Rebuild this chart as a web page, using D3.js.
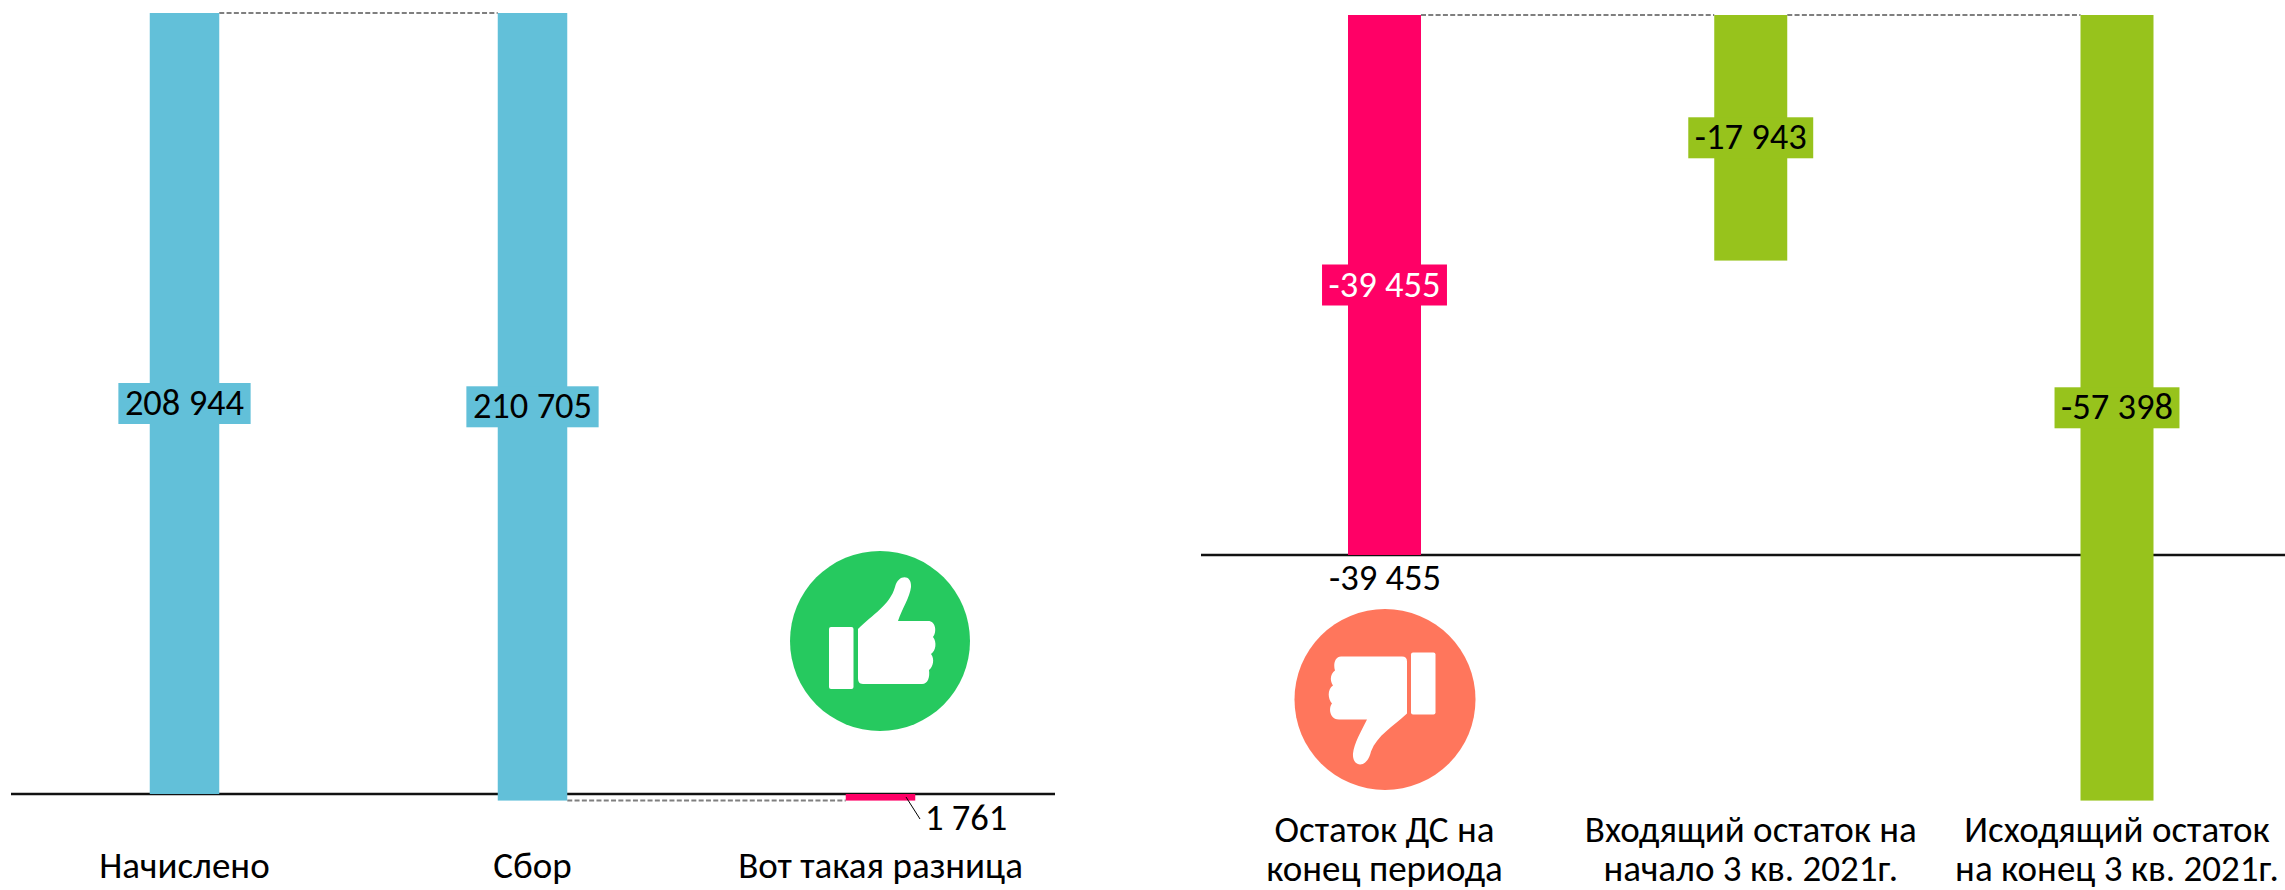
<!DOCTYPE html>
<html>
<head>
<meta charset="utf-8">
<script src="https://cdn.jsdelivr.net/npm/d3@7"></script>
<style>
  html, body { margin: 0; padding: 0; background: #fff; }
  svg { display: block; }
  text { font-family: Carlito, Lato, "Open Sans", sans-serif; font-size: 36.5px; fill: #000; }
  text.cat { font-size: 37px; }
</style>
</head>
<body>
<svg id="chart" width="2285" height="890"></svg>
<script>
// left chart
var leftCategories = [["Начислено"], ["Сбор"], ["Вот такая разница"]];
var leftStart = [0, 208944, -1761];
var leftEnd = [208944, -1761, 0];
var leftLevels = [208944, -1761];
var leftLabels = ["208 944", "210 705", "1 761"];
var leftColors = ["#62c0d9", "#62c0d9", "#ff0066"];

// right chart, values run upward as a negative balance
var rightCategories = [["Остаток ДС на", "конец периода"], ["Входящий остаток на", "начало 3 кв. 2021г."], ["Исходящий остаток", "на конец 3 кв. 2021г."]];
var rightStart = [0, -39455, -39455];
var rightEnd = [-39455, -21512, 17943];
var rightLevels = [-39455, -39455];
var rightLabels = ["-39 455", "-17 943", "-57 398"];
var rightColors = ["#ff0066", "#97c31c", "#97c31c"];

var svg = d3.select("#chart");

var xLeft = d3.scalePoint().domain([0, 1, 2]).range([184.5, 880.5]);
var yLeft = d3.scaleLinear().domain([0, 208944]).range([794, 13]);

var xRight = d3.scalePoint().domain([0, 1, 2]).range([1384.5, 2117]);
var yRight = d3.scaleLinear().domain([0, -39455]).range([555, 15]);

function drawChart(cfg) {
  var g = svg.append("g");
  var bw = cfg.barWidth;

  // baseline sits behind the bar that crosses it
  g.append("line")
    .attr("x1", cfg.axisX[0]).attr("x2", cfg.axisX[1])
    .attr("y1", cfg.y(0)).attr("y2", cfg.y(0))
    .attr("stroke", "#111").attr("stroke-width", 2.5);

  // connectors
  cfg.levels.forEach(function(v, c) {
    g.append("line")
      .attr("x1", cfg.x(c) + bw / 2).attr("x2", cfg.x(c + 1) - bw / 2)
      .attr("y1", cfg.y(v)).attr("y2", cfg.y(v))
      .attr("stroke", "#7f7f7f").attr("stroke-width", 2)
      .attr("stroke-dasharray", "5 2.3");
  });

  // bars
  g.selectAll("rect.bar").data(d3.range(3)).enter().append("rect")
    .attr("class", "bar")
    .attr("x", function(d) { return cfg.x(d) - bw / 2; })
    .attr("width", bw)
    .attr("y", function(d) { return Math.min(cfg.y(cfg.start[d]), cfg.y(cfg.end[d])); })
    .attr("height", function(d) { return Math.abs(cfg.y(cfg.start[d]) - cfg.y(cfg.end[d])); })
    .attr("fill", function(d) { return cfg.colors[d]; });

  // category labels
  cfg.categories.forEach(function(lines, i) {
    var t = g.append("text").attr("class", "cat").attr("text-anchor", "middle").attr("y", cfg.catY);
    lines.forEach(function(s, k) {
      t.append("tspan").attr("x", cfg.x(i)).attr("dy", k ? 39 : 0).text(s);
    });
  });

  // value labels on a box of the bar's colour
  d3.range(cfg.boxed).forEach(function(i) {
    var cy = cfg.y((cfg.start[i] + cfg.end[i]) / 2);
    var t = g.append("text").attr("x", cfg.x(i)).attr("y", cy + 11.5).attr("text-anchor", "middle").text(cfg.labels[i]);
    if (cfg.colors[i] == "#ff0066") t.style("fill", "#fff");
    var w = t.node().getBBox().width + 13;
    g.append("rect").attr("x", cfg.x(i) - w / 2).attr("width", w).attr("y", cy - 20.5).attr("height", 41).attr("fill", cfg.colors[i]);
    t.raise();
  });
  return g;
}

var gl = drawChart({
  x: xLeft, y: yLeft, barWidth: 69.5, start: leftStart, end: leftEnd, levels: leftLevels, colors: leftColors,
  categories: leftCategories, labels: leftLabels, boxed: 2, axisX: [11, 1055], catY: 878
});

var gr = drawChart({
  x: xRight, y: yRight, barWidth: 73, start: rightStart, end: rightEnd, levels: rightLevels, colors: rightColors,
  categories: rightCategories, labels: rightLabels, boxed: 3, axisX: [1201, 2285], catY: 842
});

// outside labels
gl.append("text").attr("x", 925).attr("y", 830).text(leftLabels[2]);
gl.append("line").attr("x1", 906).attr("y1", 797).attr("x2", 920).attr("y2", 819).attr("stroke", "#000").attr("stroke-width", 1);
gr.append("text").attr("x", 1385).attr("y", 590).attr("text-anchor", "middle").text(rightLabels[0]);

// thumbs
var up = svg.append("g").attr("transform", "translate(880,641)");
up.append("circle").attr("r", 90).attr("fill", "#26c95f");
up.append("rect").attr("x", -51).attr("y", -14).attr("width", 24.5).attr("height", 62).attr("rx", 2).attr("fill", "#fff");
up.append("path").attr("fill", "#fff").attr("d", "M-22,-12 C-8,-26 10,-36 15,-54 C18,-67 32,-67 31,-54 C30,-44 22,-32 18,-20 H48 C56,-20 57,-9 53,-4 C57,1 56,10 51,13 C55,18 53,26 49,29 C50,36 48,43 42,43 H-17 C-21,43 -22,40 -22,37 Z");

var down = svg.append("g").attr("transform", "translate(1385,699.5)");
down.append("circle").attr("r", 90.5).attr("fill", "#ff765c");
down.append("rect").attr("x", 26).attr("y", -47).attr("width", 24.5).attr("height", 62).attr("rx", 2).attr("fill", "#fff");
down.append("path").attr("fill", "#fff").attr("d", "M17,-43 Q22,-43 22,-38 V14 C8,27 -8,36 -14,52 C-18,70 -33,68 -32,54 C-31,44 -24,32 -18,20 H-46 C-55,20 -57,9 -53,4 C-58,-2 -57,-11 -52,-14 C-56,-20 -54,-26 -50,-29 C-52,-35 -50,-43 -44,-43 Z");
</script>
</body>
</html>
